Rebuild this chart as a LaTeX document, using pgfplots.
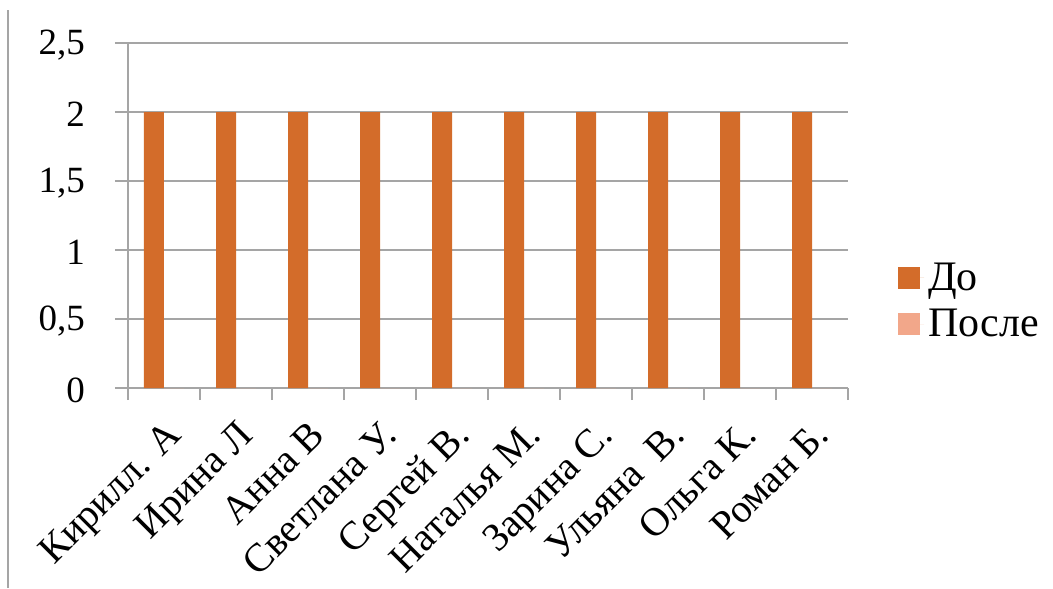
\documentclass[border=0pt]{standalone}
\usepackage{fontspec}
\setmainfont{Liberation Serif}
\usepackage{pgfplots}
\pgfplotsset{compat=1.18}
\definecolor{do}{RGB}{211,108,42}
\definecolor{posle}{RGB}{242,167,138}
\definecolor{gridc}{RGB}{165,165,165}
\begin{document}
\begin{tikzpicture}
\useasboundingbox (-64pt,-100pt) rectangle (462.5pt,194pt);
\draw[gridc, line width=1pt] (-60pt,-100pt) -- (-60pt,189pt);
\begin{axis}[at={(0,0)}, anchor=south west, scale only axis,
  width=360pt, height=172.5pt,
  ybar=0pt, bar width=10pt,
  xmin=-0.5, xmax=9.5, ymin=0, ymax=2.5,
  axis x line=bottom, axis y line=left,
  axis line style={gridc, line width=0.75pt, -},
  xtick={0,...,9},
  xticklabels={Кирилл. А, Ирина Л, Анна В, Светлана У., Сергей В., Наталья М., Зарина С., Ульяна\ \ В., Ольга К., Роман Б.},
  major x tick style={draw=none},
  minor xtick={-0.5,0.5,...,9.5},
  minor x tick style={gridc, line width=0.75pt},
  minor tick length=6pt,
  ytick={0,0.5,...,2.5},
  ymajorgrids, grid style={gridc, line width=0.75pt},
  major y tick style={gridc, line width=0.75pt},
  major tick length=6.5pt,
  tick align=outside,
  /pgf/number format/use comma,
  /pgf/number format/assume math mode=true,
  yticklabel style={font=\fontsize{18.5}{22}\selectfont, anchor=east, xshift=-11.5pt, yshift=-1pt},
  xticklabel style={font=\fontsize{20}{24}\selectfont, rotate=45, anchor=north east, inner sep=1pt, xshift=-5pt, yshift=-5pt},
  legend style={draw=none, fill=none, at={(axis description cs:1.069,0.252)}, anchor=west,
    font=\fontsize{21}{25}\selectfont, row sep=4pt, inner sep=0pt},
  legend cell align=left,
]
\addplot[fill=do, draw=none, legend image code/.code={\fill[do] (0pt,-5.5pt) rectangle (11pt,5.5pt); \path (0pt,0pt) -- (13pt,0pt);}]
  coordinates {(0,2) (1,2) (2,2) (3,2) (4,2) (5,2) (6,2) (7,2) (8,2) (9,2)};
\addplot[fill=posle, draw=none, legend image code/.code={\fill[posle] (0pt,-5.5pt) rectangle (11pt,5.5pt); \path (0pt,0pt) -- (13pt,0pt);}]
  coordinates {(0,0) (1,0) (2,0) (3,0) (4,0) (5,0) (6,0) (7,0) (8,0) (9,0)};
\legend{До, После}
\end{axis}
\end{tikzpicture}
\end{document}
